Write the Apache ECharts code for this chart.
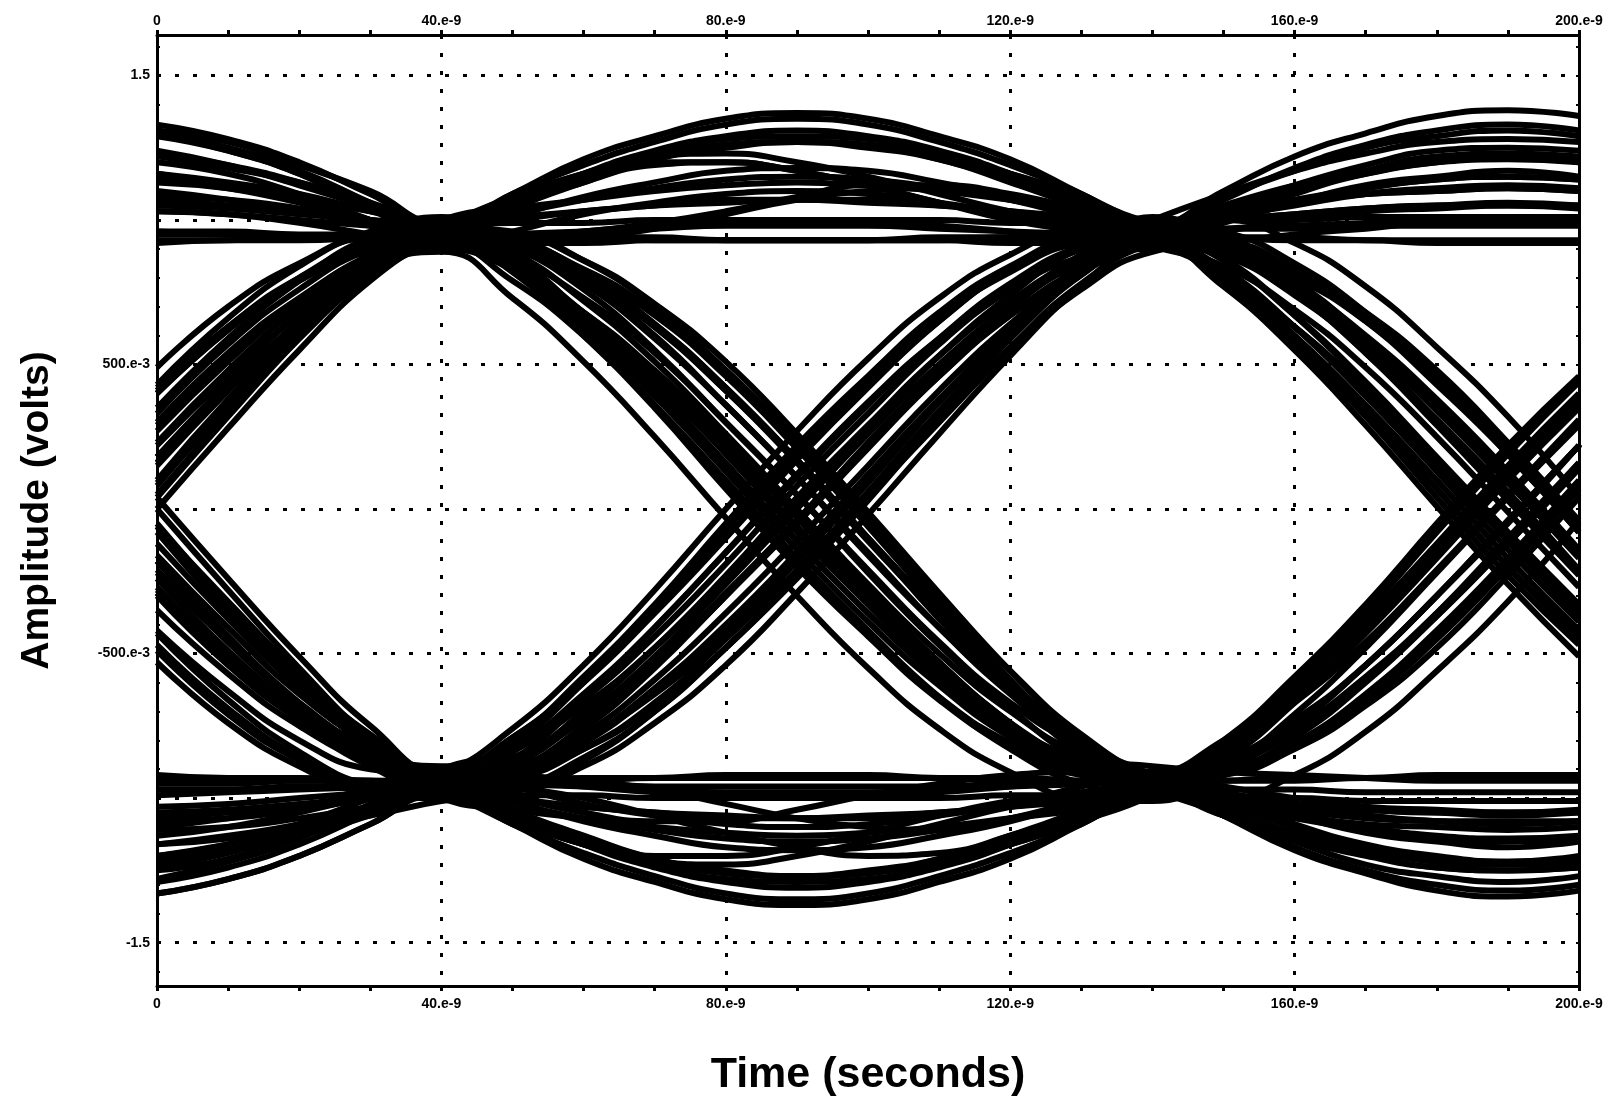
<!DOCTYPE html>
<html>
<head>
<meta charset="utf-8">
<script src="https://cdn.jsdelivr.net/npm/echarts@6/dist/echarts.min.js"></script>
<style>
  html, body { margin: 0; padding: 0; background: #fff; overflow: hidden; }
  #chart { width: 1617px; height: 1102px; }
</style>
</head>
<body>
<div id="chart"></div>
<script>
// Sample instants of every trace, in nanoseconds (0 .. 200 ns window)
const timeNs = [0, 10, 20, 30, 40, 50, 60, 70, 80, 90, 100, 110, 120, 130, 140, 150, 160, 170, 180, 190, 200];

// Axis ticks and their labels
const xTickValues = [0, 40, 80, 120, 160, 200];
const xTickLabels = ['0', '40.e-9', '80.e-9', '120.e-9', '160.e-9', '200.e-9'];
const yTickValues = [-1.5, -0.5, 0.5, 1.5];
const yTickLabels = ['-1.5', '-500.e-3', '500.e-3', '1.5'];
const yGridValues = [-1.5, -1, -0.5, 0, 0.5, 1, 1.5];
const yMinorTicks = [-1.6, -1.5, -1.4, -1.3, -1.2, -1.1, -1.0, -0.9, -0.8, -0.7, -0.6, -0.5, -0.4, -0.3, -0.2, -0.1, 0,
  0.1, 0.2, 0.3, 0.4, 0.5, 0.6, 0.7, 0.8, 0.9, 1.0, 1.1, 1.2, 1.3, 1.4, 1.5, 1.6];

// Traces that are high at 40 ns and high at 140 ns (volts)
const highToHigh = [
  [1.07, 1.05, 1.03, 1.00, .97, 1.09, 1.21, 1.29, 1.35, 1.37, 1.35, 1.29, 1.21, 1.09, .97, .86, .67, .44, .18, -.08, -.33],
  [.40, .62, .79, .90, .93, 1.04, 1.13, 1.21, 1.25, 1.27, 1.25, 1.21, 1.13, 1.04, .93, 1.00, 1.06, 1.11, 1.14, 1.15, 1.14],
  [1.31, 1.27, 1.19, 1.10, .99, 1.08, 1.16, 1.22, 1.26, 1.27, 1.26, 1.22, 1.16, 1.08, .99, .96, .85, .68, .46, .21, -.06],
  [.16, .42, .65, .84, .95, 1.06, 1.15, 1.20, 1.20, 1.17, 1.12, 1.06, 1.01, .98, .95, .97, .98, .99, 1.00, 1.00, 1.00],
  [.96, .95, .94, .93, .91, .92, .94, .97, 1.02, 1.07, 1.10, 1.11, 1.07, 1.00, .91, .84, .69, .49, .25, -.01, -.27],
  [.05, .33, .59, .81, .97, 1.00, 1.03, 1.05, 1.07, 1.07, 1.07, 1.05, 1.03, 1.00, .97, 1.08, 1.17, 1.25, 1.29, 1.31, 1.29],
  [1.14, 1.11, 1.06, 1.00, .93, .95, .96, .97, .98, .98, .98, .97, .96, .95, .93, .77, .55, .29, .01, -.26, -.51],
  [.93, .93, .94, .94, .95, .94, .94, .93, .93, .93, .93, .93, .94, .94, .95, .94, .94, .93, .93, .93, .93],
  [.96, .96, .95, .95, .94, 1.05, 1.16, 1.24, 1.29, 1.31, 1.29, 1.24, 1.16, 1.05, .94, .88, .74, .55, .31, .06, -.21],
  [.23, .48, .70, .88, .98, 1.08, 1.16, 1.23, 1.28, 1.29, 1.28, 1.23, 1.16, 1.08, .98, 1.02, 1.06, 1.09, 1.10, 1.11, 1.10],
  [1.16, 1.12, 1.07, 1.00, .92, 1.04, 1.13, 1.19, 1.20, 1.17, 1.12, 1.06, 1.00, .96, .92, .80, .60, .36, .10, -.17, -.42],
  [.40, .62, .80, .92, .96, 1.02, 1.07, 1.11, 1.14, 1.15, 1.14, 1.11, 1.07, 1.02, .96, 1.07, 1.18, 1.26, 1.31, 1.33, 1.31],
  [1.30, 1.25, 1.17, 1.06, .95, .95, .96, .99, 1.03, 1.08, 1.12, 1.12, 1.09, 1.03, .95, .93, .83, .67, .45, .21, -.06],
  [.10, .38, .63, .85, .99, 1.01, 1.03, 1.05, 1.06, 1.07, 1.06, 1.05, 1.03, 1.01, .99, 1.00, 1.00, 1.01, 1.01, 1.01, 1.01],
  [1.03, 1.02, .99, .95, .91, .92, .92, .93, .93, .93, .93, .93, .92, .92, .91, .81, .63, .41, .16, -.11, -.36],
  [.27, .51, .72, .88, .96, .95, .94, .94, .93, .93, .93, .94, .94, .95, .96, 1.04, 1.11, 1.16, 1.20, 1.21, 1.20],
  [1.16, 1.13, 1.09, 1.03, .98, 1.09, 1.19, 1.27, 1.33, 1.35, 1.33, 1.27, 1.19, 1.09, .98, 1.00, 1.02, 1.04, 1.05, 1.05, 1.05],
  [.30, .54, .73, .87, .93, 1.01, 1.08, 1.13, 1.17, 1.18, 1.17, 1.13, 1.08, 1.01, .93, .89, .77, .59, .37, .12, -.15],
  [1.20, 1.16, 1.09, 1.00, .91, .96, 1.02, 1.06, 1.09, 1.10, 1.09, 1.06, 1.02, .96, .91, 1.00, 1.09, 1.16, 1.20, 1.22, 1.20],
  [.18, .44, .68, .87, 1.00, 1.04, 1.07, 1.10, 1.12, 1.13, 1.12, 1.10, 1.07, 1.04, 1.00, 1.00, .92, .77, .56, .32, .04],
  [1.03, 1.02, 1.00, .98, .96, 1.06, 1.14, 1.21, 1.26, 1.27, 1.26, 1.21, 1.14, 1.06, .96, .82, .60, .35, .07, -.20, -.44],
  [.42, .63, .80, .90, .92, .94, .96, .98, .99, .99, .99, .98, .96, .94, .92, .99, 1.06, 1.12, 1.15, 1.17, 1.15],
  [1.33, 1.28, 1.20, 1.09, .98, .99, .99, 1.00, 1.00, 1.00, 1.00, 1.00, .99, .99, .98, 1.02, 1.06, 1.09, 1.10, 1.11, 1.10],
  [.00, .28, .55, .79, .95, 1.07, 1.16, 1.22, 1.23, 1.20, 1.15, 1.09, 1.03, .99, .95, .83, .63, .39, .13, -.14, -.39]
];

// Traces that are high at 40 ns and low at 140 ns
const highToLow = [
  [1.30, 1.24, 1.16, 1.04, .92, .91, .82, .67, .46, .21, -.06, -.34, -.60, -.82, -.98, -1.01, -1.04, -1.06, -1.08, -1.08, -1.08],
  [.49, .70, .85, .94, .95, .92, .81, .64, .42, .17, -.10, -.36, -.61, -.82, -.95, -.92, -.81, -.64, -.42, -.17, .10],
  [1.23, 1.19, 1.13, 1.05, .96, .91, .78, .59, .36, .11, -.15, -.41, -.64, -.83, -.94, -1.06, -1.18, -1.26, -1.32, -1.34, -1.32],
  [.18, .43, .64, .81, .90, .83, .68, .48, .24, -.02, -.28, -.53, -.74, -.91, -1.00, -.84, -.62, -.36, -.08, .19, .44],
  [1.13, 1.11, 1.07, 1.03, .98, .89, .72, .51, .26, .00, -.26, -.50, -.70, -.85, -.92, -.99, -1.05, -1.10, -1.13, -1.14, -1.13],
  [.09, .35, .60, .81, .94, .83, .64, .41, .15, -.11, -.36, -.59, -.78, -.91, -.96, -.89, -.74, -.54, -.30, -.04, .22],
  [.35, .59, .79, .94, 1.01, .88, .67, .42, .16, -.11, -.36, -.58, -.75, -.86, -.89, -.91, -.92, -.93, -.94, -.94, -.94],
  [.29, .52, .71, .84, .89, .73, .51, .25, -.03, -.30, -.55, -.76, -.91, -1.00, -1.01, -.90, -.71, -.48, -.22, .04, .29],
  [1.24, 1.19, 1.12, 1.04, .94, .94, .86, .71, .51, .26, -.01, -.29, -.56, -.80, -.96, -1.02, -1.07, -1.11, -1.14, -1.15, -1.14],
  [.41, .63, .79, .89, .91, .89, .79, .63, .41, .17, -.10, -.38, -.63, -.85, -.99, -.91, -.75, -.54, -.30, -.04, .22],
  [1.05, 1.04, 1.02, 1.00, .98, .94, .82, .64, .42, .17, -.10, -.36, -.60, -.80, -.92, -1.02, -1.10, -1.17, -1.22, -1.23, -1.22],
  [.04, .32, .59, .83, .99, .93, .79, .60, .36, .11, -.16, -.41, -.63, -.81, -.91, -.91, -.83, -.68, -.48, -.23, .04],
  [1.10, 1.07, 1.03, .98, .92, .84, .68, .47, .23, -.03, -.29, -.53, -.74, -.90, -.98, -1.00, -1.02, -1.04, -1.05, -1.06, -1.05],
  [.33, .57, .76, .90, .96, .86, .68, .46, .21, -.06, -.31, -.55, -.74, -.88, -.94, -.80, -.58, -.33, -.05, .22, .46],
  [.92, .93, .93, .94, .95, .83, .63, .39, .13, -.14, -.39, -.61, -.79, -.91, -.95, -1.06, -1.17, -1.25, -1.30, -1.32, -1.30],
  [.15, .41, .65, .85, .97, .83, .61, .36, .08, -.19, -.43, -.65, -.81, -.91, -.93, -.87, -.73, -.54, -.30, -.05, .22],
  [.22, .46, .67, .83, .91, .91, .83, .68, .48, .23, -.04, -.32, -.59, -.83, -.99, -.87, -.67, -.43, -.17, .10, .35],
  [1.22, 1.18, 1.13, 1.06, .98, .96, .86, .70, .48, .24, -.03, -.31, -.56, -.78, -.92, -.96, -1.00, -1.03, -1.04, -1.05, -1.04],
  [.08, .36, .61, .83, .97, .93, .81, .63, .41, .16, -.11, -.37, -.61, -.81, -.93, -.91, -.81, -.65, -.43, -.19, .08],
  [.95, .95, .94, .94, .93, .87, .73, .54, .30, .05, -.22, -.47, -.69, -.87, -.97, -1.05, -1.12, -1.17, -1.21, -1.22, -1.21],
  [.43, .66, .84, .96, 1.00, .91, .76, .55, .30, .05, -.21, -.46, -.67, -.82, -.91, -.80, -.63, -.40, -.15, .11, .37],
  [1.29, 1.24, 1.16, 1.05, .94, .84, .66, .44, .19, -.08, -.33, -.57, -.76, -.90, -.96, -.97, -.97, -.98, -.98, -.98, -.98],
  [.16, .41, .64, .81, .92, .79, .60, .36, .10, -.17, -.42, -.65, -.83, -.95, -.99, -.92, -.79, -.59, -.36, -.10, .16],
  [1.08, 1.07, 1.04, 1.00, .96, .82, .60, .35, .07, -.20, -.44, -.66, -.82, -.92, -.94, -1.04, -1.12, -1.19, -1.24, -1.25, -1.24]
];

// Traces that are low at 40 ns and high at 140 ns
const lowToHigh = [
  [-1.13, -1.10, -1.05, -.99, -.92, -.76, -.54, -.28, .00, .27, .52, .73, .88, .97, .98, 1.10, 1.22, 1.30, 1.36, 1.38, 1.36],
  [-.47, -.69, -.86, -.97, -1.00, -.87, -.66, -.41, -.15, .12, .37, .59, .76, .87, .90, .89, .80, .65, .44, .19, -.08],
  [-.99, -.98, -.97, -.96, -.94, -.83, -.64, -.41, -.15, .11, .36, .59, .78, .91, .96, 1.01, 1.05, 1.09, 1.11, 1.12, 1.11],
  [-.06, -.34, -.60, -.82, -.98, -.89, -.72, -.51, -.26, .00, .26, .50, .70, .85, .92, .79, .58, .33, .07, -.20, -.45],
  [-1.28, -1.22, -1.14, -1.02, -.90, -.83, -.68, -.48, -.24, .02, .28, .53, .74, .91, 1.00, 1.09, 1.17, 1.23, 1.27, 1.28, 1.27],
  [-.24, -.49, -.70, -.87, -.96, -.91, -.78, -.59, -.36, -.11, .15, .41, .64, .83, .94, .89, .76, .57, .34, .09, -.17],
  [-1.16, -1.14, -1.10, -1.06, -1.01, -.98, -.87, -.70, -.48, -.23, .04, .30, .55, .76, .89, .92, .95, .97, .99, .99, .99],
  [-.29, -.52, -.71, -.84, -.89, -.88, -.79, -.64, -.43, -.18, .09, .37, .63, .85, 1.01, .92, .75, .54, .29, .03, -.23],
  [-1.24, -1.19, -1.12, -1.04, -.94, -.80, -.58, -.33, -.05, .22, .46, .68, .84, .94, .96, 1.02, 1.07, 1.11, 1.14, 1.15, 1.14],
  [.04, -.24, -.51, -.75, -.91, -.79, -.59, -.35, -.09, .18, .43, .65, .83, .95, .99, .91, .75, .54, .30, .04, -.22],
  [-1.05, -1.04, -1.02, -1.00, -.98, -.88, -.70, -.48, -.23, .04, .29, .53, .72, .86, .92, 1.02, 1.10, 1.17, 1.22, 1.23, 1.22],
  [-.49, -.71, -.87, -.97, -.99, -.91, -.75, -.54, -.30, -.04, .22, .46, .67, .83, .91, .91, .83, .68, .48, .23, -.04],
  [-1.10, -1.07, -1.03, -.98, -.92, -.86, -.72, -.53, -.29, -.04, .23, .48, .70, .88, .98, 1.00, 1.02, 1.04, 1.05, 1.06, 1.05],
  [-.21, -.46, -.68, -.86, -.96, -.92, -.80, -.62, -.40, -.15, .12, .38, .62, .82, .94, .90, .78, .60, .38, .13, -.14],
  [-.92, -.93, -.93, -.94, -.95, -.93, -.83, -.67, -.45, -.21, .06, .34, .59, .81, .95, .94, .93, .93, .92, .92, .92],
  [-.28, -.52, -.73, -.89, -.97, -.97, -.89, -.74, -.54, -.29, -.02, .26, .53, .77, .93, .79, .57, .32, .04, -.23, -.47],
  [-.22, -.46, -.67, -.83, -.91, -.91, -.83, -.68, -.48, -.23, .04, .32, .59, .83, .99, .87, .67, .43, .17, -.10, -.35],
  [-1.22, -1.18, -1.13, -1.06, -.98, -.96, -.86, -.70, -.48, -.24, .03, .31, .56, .78, .92, .96, 1.00, 1.03, 1.04, 1.05, 1.04],
  [-.08, -.36, -.61, -.83, -.97, -.93, -.81, -.63, -.41, -.16, .11, .37, .61, .81, .93, .91, .81, .65, .43, .19, -.08],
  [-.95, -.95, -.94, -.94, -.93, -.87, -.73, -.54, -.30, -.05, .22, .47, .69, .87, .97, 1.05, 1.12, 1.17, 1.21, 1.22, 1.21],
  [-.43, -.66, -.84, -.96, -1.00, -.91, -.76, -.55, -.30, -.05, .21, .46, .67, .82, .91, .80, .63, .40, .15, -.11, -.37],
  [-1.29, -1.24, -1.16, -1.05, -.94, -.84, -.66, -.44, -.19, .08, .33, .57, .76, .90, .96, .97, .97, .98, .98, .98, .98],
  [-.16, -.41, -.64, -.81, -.92, -.79, -.60, -.36, -.10, .17, .42, .65, .83, .95, .99, .92, .79, .59, .36, .10, -.16],
  [-1.08, -1.07, -1.04, -1.00, -.96, -.82, -.60, -.35, -.07, .20, .44, .66, .82, .92, .94, 1.04, 1.12, 1.19, 1.24, 1.25, 1.24]
];

// Traces that are low at 40 ns and low at 140 ns
const lowToLow = [
  [-.18, -.44, -.67, -.86, -.97, -1.09, -1.21, -1.29, -1.35, -1.37, -1.35, -1.29, -1.21, -1.09, -.97, -.92, -.79, -.60, -.37, -.12, .14],
  [-1.25, -1.21, -1.13, -1.04, -.93, -1.04, -1.13, -1.21, -1.25, -1.27, -1.25, -1.21, -1.13, -1.04, -.93, -.98, -1.02, -1.06, -1.08, -1.09, -1.08],
  [-.53, -.74, -.89, -.98, -.99, -1.08, -1.16, -1.22, -1.26, -1.27, -1.26, -1.22, -1.16, -1.08, -.99, -.86, -.65, -.40, -.14, .13, .38],
  [-1.22, -1.18, -1.12, -1.04, -.95, -1.06, -1.15, -1.20, -1.20, -1.17, -1.12, -1.06, -1.01, -.98, -.95, -1.06, -1.15, -1.23, -1.27, -1.29, -1.27],
  [-.06, -.32, -.57, -.78, -.91, -.92, -.94, -.97, -1.02, -1.07, -1.10, -1.11, -1.07, -1.00, -.91, -.90, -.81, -.66, -.45, -.20, .07],
  [-1.07, -1.05, -1.03, -1.00, -.97, -1.00, -1.03, -1.05, -1.07, -1.07, -1.07, -1.05, -1.03, -1.00, -.97, -1.06, -1.14, -1.20, -1.24, -1.25, -1.24],
  [-.27, -.51, -.71, -.86, -.93, -.95, -.96, -.97, -.98, -.98, -.98, -.97, -.96, -.95, -.93, -.84, -.67, -.46, -.21, .05, .31],
  [-.93, -.93, -.94, -.94, -.95, -.94, -.94, -.93, -.93, -.93, -.93, -.93, -.94, -.94, -.95, -.94, -.94, -.93, -.93, -.93, -.93],
  [-.12, -.38, -.62, -.82, -.94, -1.05, -1.16, -1.24, -1.29, -1.31, -1.29, -1.24, -1.16, -1.05, -.94, -.82, -.62, -.38, -.12, .15, .40],
  [-1.33, -1.28, -1.20, -1.09, -.98, -1.08, -1.16, -1.23, -1.28, -1.29, -1.28, -1.23, -1.16, -1.08, -.98, -1.06, -1.13, -1.18, -1.22, -1.23, -1.22],
  [-.29, -.53, -.72, -.86, -.92, -.96, -1.00, -1.06, -1.12, -1.17, -1.20, -1.19, -1.13, -1.04, -.92, -.88, -.76, -.58, -.36, -.11, .16],
  [-1.20, -1.16, -1.11, -1.04, -.96, -1.02, -1.07, -1.11, -1.14, -1.15, -1.14, -1.11, -1.07, -1.02, -.96, -1.00, -1.04, -1.07, -1.08, -1.09, -1.08],
  [-.35, -.57, -.75, -.87, -.91, -.99, -1.05, -1.08, -1.08, -1.04, -.99, -.95, -.92, -.91, -.91, -.81, -.63, -.41, -.16, .11, .36],
  [-1.11, -1.10, -1.07, -1.03, -.99, -1.01, -1.03, -1.05, -1.06, -1.07, -1.06, -1.05, -1.03, -1.01, -.99, -1.00, -1.00, -1.01, -1.01, -1.01, -1.01],
  [-.05, -.33, -.58, -.80, -.94, -.95, -.95, -.96, -.96, -.96, -.96, -.96, -.95, -.95, -.94, -.92, -.82, -.66, -.44, -.20, .07],
  [-.97, -.97, -.96, -.96, -.95, -.94, -.93, -.93, -.92, -.92, -.92, -.93, -.93, -.94, -.95, -.94, -.93, -.93, -.92, -.92, -.92],
  [-1.16, -1.13, -1.09, -1.03, -.98, -1.09, -1.19, -1.27, -1.33, -1.35, -1.33, -1.27, -1.19, -1.09, -.98, -1.00, -1.02, -1.04, -1.05, -1.05, -1.05],
  [-.30, -.54, -.73, -.87, -.93, -1.01, -1.08, -1.13, -1.17, -1.18, -1.17, -1.13, -1.08, -1.01, -.93, -.89, -.77, -.59, -.37, -.12, .15],
  [-1.20, -1.16, -1.09, -1.00, -.91, -.96, -1.02, -1.06, -1.09, -1.10, -1.09, -1.06, -1.02, -.96, -.91, -1.00, -1.09, -1.16, -1.20, -1.22, -1.20],
  [-.18, -.44, -.68, -.87, -1.00, -1.04, -1.07, -1.10, -1.12, -1.13, -1.12, -1.10, -1.07, -1.04, -1.00, -1.00, -.92, -.77, -.56, -.32, -.04],
  [-1.03, -1.02, -1.00, -.98, -.96, -1.06, -1.14, -1.21, -1.26, -1.27, -1.26, -1.21, -1.14, -1.06, -.96, -.82, -.60, -.35, -.07, .20, .44],
  [-.42, -.63, -.80, -.90, -.92, -.94, -.96, -.98, -.99, -.99, -.99, -.98, -.96, -.94, -.92, -.99, -1.06, -1.12, -1.15, -1.17, -1.15],
  [-1.33, -1.28, -1.20, -1.09, -.98, -.99, -.99, -1.00, -1.00, -1.00, -1.00, -1.00, -.99, -.99, -.98, -1.02, -1.06, -1.09, -1.10, -1.11, -1.10],
  [.00, -.28, -.55, -.79, -.95, -1.07, -1.16, -1.22, -1.23, -1.20, -1.15, -1.09, -1.03, -.99, -.95, -.83, -.63, -.39, -.13, .14, .39]
];

const allTraces = [].concat(highToHigh, highToLow, lowToHigh, lowToLow);

const fontFamily = 'Liberation Sans, Arial, Helvetica, sans-serif';
const labelFont = { fontFamily: fontFamily, fontWeight: 'bold', fontSize: 14, color: '#000' };
const dotted = { color: '#000', width: 3, type: [4, 14] };

const xLabel = v => {
  const i = xTickValues.indexOf(v);
  return i >= 0 ? xTickLabels[i] : '';
};
const yLabel = v => {
  const i = yTickValues.findIndex(t => Math.abs(t - v) < 1e-9);
  return i >= 0 ? yTickLabels[i] : '';
};

const baseX = {
  type: 'value', min: 0, max: 200, interval: 40,
  axisLine: { show: true, onZero: false, lineStyle: { color: '#000', width: 3 } },
  axisTick: { show: true, length: 5, lineStyle: { color: '#000', width: 3 } },
  minorTick: { show: true, splitNumber: 4, length: 5, lineStyle: { color: '#000', width: 3 } },
  splitLine: { show: false },
  minorSplitLine: { show: false }
};

const baseY = {
  type: 'value', min: -1.65, max: 1.64,
  axisLine: { show: true, onZero: false, lineStyle: { color: '#000', width: 3 } },
  axisTick: { show: true, inside: true, length: 3, customValues: yMinorTicks, lineStyle: { color: '#000', width: 2 } },
  splitLine: { show: false }
};

const series = allTraces.map(v => ({
  type: 'line',
  data: timeNs.map((t, i) => [t, v[i]]),
  smooth: true,
  showSymbol: false,
  symbol: 'none',
  silent: true,
  lineStyle: { color: '#000', width: 6 },
  z: 3
}));

// Dotted horizontal grid
series.push({
  type: 'line',
  data: [],
  silent: true,
  markLine: {
    silent: true,
    symbol: 'none',
    label: { show: false },
    lineStyle: dotted,
    data: yGridValues.map(v => ({ yAxis: v }))
  },
  z: 1
});

const chart = echarts.init(document.getElementById('chart'), null, { renderer: 'canvas' });
chart.setOption({
  backgroundColor: '#fff',
  animation: false,
  grid: { left: 157, right: 38, top: 35, bottom: 105, containLabel: false },
  xAxis: [
    Object.assign({}, baseX, {
      position: 'bottom',
      name: 'Time (seconds)',
      nameLocation: 'middle',
      nameGap: 68,
      nameTextStyle: { fontFamily: fontFamily, fontWeight: 'bold', fontSize: 43, color: '#000' },
      axisLabel: Object.assign({ margin: 11, formatter: xLabel }, labelFont),
      splitLine: { show: true, lineStyle: dotted }
    }),
    Object.assign({}, baseX, {
      position: 'top',
      axisLabel: Object.assign({ margin: 7, formatter: xLabel }, labelFont)
    })
  ],
  yAxis: [
    Object.assign({}, baseY, {
      position: 'left',
      name: 'Amplitude (volts)',
      nameLocation: 'middle',
      nameGap: 100,
      nameTextStyle: { fontFamily: fontFamily, fontWeight: 'bold', fontSize: 39, color: '#000' },
      axisLabel: Object.assign({ margin: 7, customValues: yTickValues, formatter: yLabel }, labelFont)
    }),
    Object.assign({}, baseY, {
      position: 'right',
      axisLabel: { show: false }
    })
  ],
  series: series
});
</script>
</body>
</html>
